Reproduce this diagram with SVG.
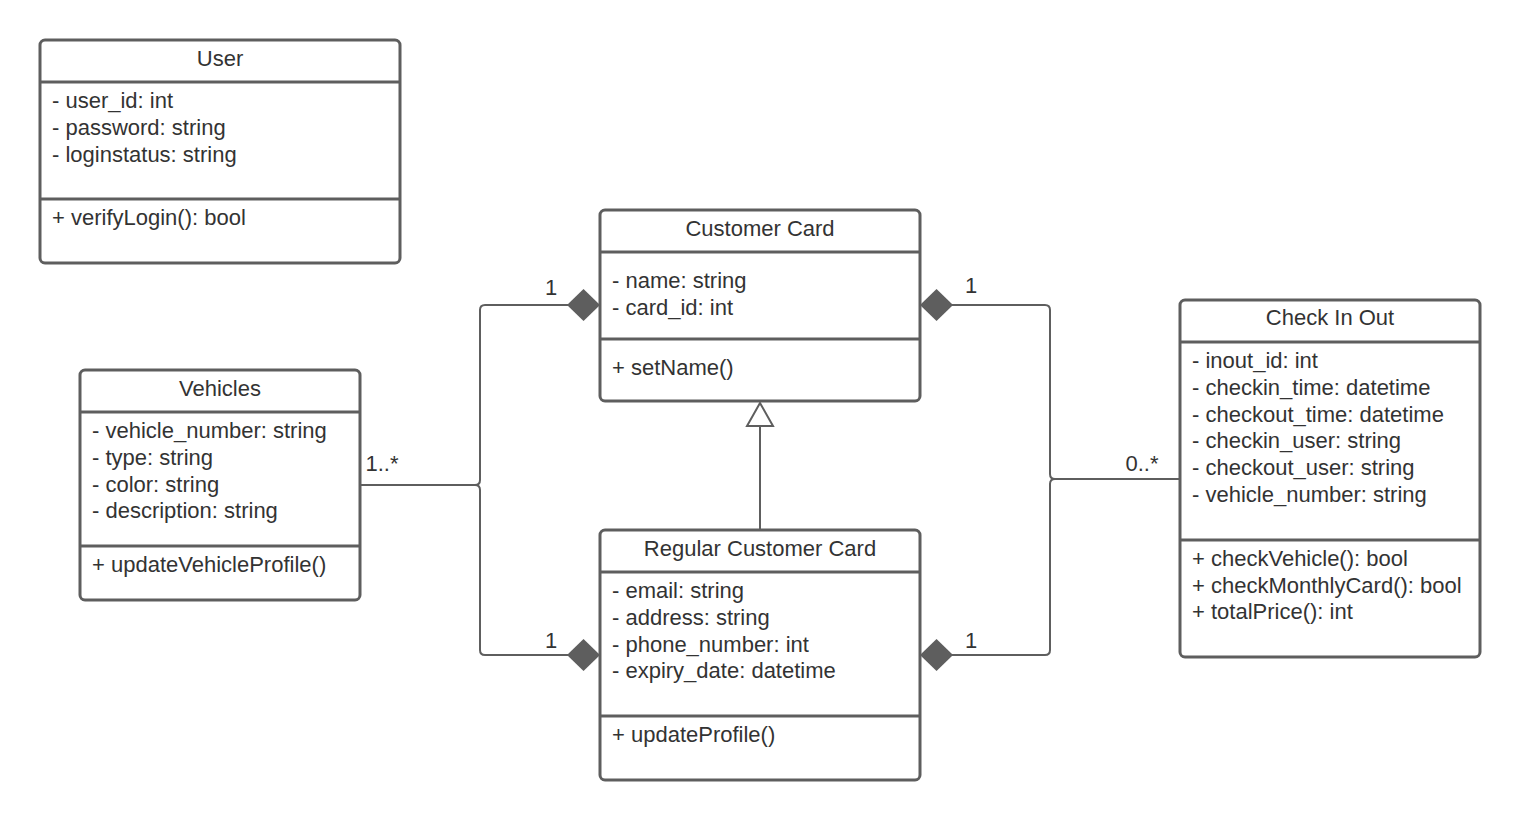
<svg xmlns="http://www.w3.org/2000/svg" width="1520" height="821" viewBox="0 0 1520 821">
<style>
.box{fill:#fff;stroke:#5e5e5e;stroke-width:3}
.div{stroke:#5e5e5e;stroke-width:3}
.t{font-family:"Liberation Sans",Arial,sans-serif;font-size:22px;fill:#333}
.c{text-anchor:middle}
.con{fill:none;stroke:#5e5e5e;stroke-width:2}
</style>
<defs>
<marker id="diamond" markerUnits="userSpaceOnUse" markerWidth="36" markerHeight="36" viewBox="-1 -18 36 36" refX="0" refY="0" orient="auto" overflow="visible">
<path d="M0,0 L16.5,-16 L33,0 L16.5,16 Z" fill="#5e5e5e"/>
</marker>
<marker id="tri" markerUnits="userSpaceOnUse" markerWidth="30" markerHeight="30" viewBox="-26 -15 30 30" refX="0" refY="0" orient="auto" overflow="visible">
<path d="M0,0 L-23,-13 L-23,13 Z" fill="#fff" stroke="#5e5e5e" stroke-width="2"/>
</marker>
</defs>
<rect width="1520" height="821" fill="#fff"/>
<g id="connectors">
<path class="con" marker-start="url(#diamond)" d="M600,305 H485 Q480,305 480,310 V480 Q480,485 475,485 H360"/>
<path class="con" marker-start="url(#diamond)" d="M600,655 H485 Q480,655 480,650 V490 Q480,485 475,485 H360"/>
<path class="con" marker-start="url(#diamond)" d="M920,305 H1045 Q1050,305 1050,310 V474 Q1050,479 1055,479 H1180"/>
<path class="con" marker-start="url(#diamond)" d="M920,655 H1045 Q1050,655 1050,650 V484 Q1050,479 1055,479 H1180"/>
<path class="con" marker-end="url(#tri)" d="M760,530 V403"/>
<text class="t c" x="551" y="295">1</text>
<text class="t c" x="551" y="648">1</text>
<text class="t c" x="382" y="471">1..*</text>
<text class="t c" x="971" y="293">1</text>
<text class="t c" x="971" y="648">1</text>
<text class="t c" x="1142" y="471">0..*</text>
</g>
<g id="user">
<rect class="box" x="40" y="40" width="360" height="223" rx="5"/>
<line class="div" x1="40" y1="82" x2="400" y2="82"/>
<line class="div" x1="40" y1="199" x2="400" y2="199"/>
<text class="t c" x="220" y="66">User</text>
<text class="t" x="52" y="108">- user_id: int</text>
<text class="t" x="52" y="135">- password: string</text>
<text class="t" x="52" y="161.5">- loginstatus: string</text>
<text class="t" x="52" y="225">+ verifyLogin(): bool</text>
</g>
<g id="customer-card">
<rect class="box" x="600" y="210" width="320" height="191" rx="5"/>
<line class="div" x1="600" y1="252" x2="920" y2="252"/>
<line class="div" x1="600" y1="339" x2="920" y2="339"/>
<text class="t c" x="760" y="236">Customer Card</text>
<text class="t" x="612" y="288">- name: string</text>
<text class="t" x="612" y="315">- card_id: int</text>
<text class="t" x="612" y="375">+ setName()</text>
</g>
<g id="vehicles">
<rect class="box" x="80" y="370" width="280" height="230" rx="5"/>
<line class="div" x1="80" y1="412" x2="360" y2="412"/>
<line class="div" x1="80" y1="546" x2="360" y2="546"/>
<text class="t c" x="220" y="396">Vehicles</text>
<text class="t" x="92" y="438">- vehicle_number: string</text>
<text class="t" x="92" y="465">- type: string</text>
<text class="t" x="92" y="491.5">- color: string</text>
<text class="t" x="92" y="518">- description: string</text>
<text class="t" x="92" y="572">+ updateVehicleProfile()</text>
</g>
<g id="regular-customer-card">
<rect class="box" x="600" y="530" width="320" height="250" rx="5"/>
<line class="div" x1="600" y1="572" x2="920" y2="572"/>
<line class="div" x1="600" y1="716" x2="920" y2="716"/>
<text class="t c" x="760" y="556">Regular Customer Card</text>
<text class="t" x="612" y="598">- email: string</text>
<text class="t" x="612" y="625">- address: string</text>
<text class="t" x="612" y="651.5">- phone_number: int</text>
<text class="t" x="612" y="678">- expiry_date: datetime</text>
<text class="t" x="612" y="742">+ updateProfile()</text>
</g>
<g id="check-in-out">
<rect class="box" x="1180" y="300" width="300" height="357" rx="5"/>
<line class="div" x1="1180" y1="342" x2="1480" y2="342"/>
<line class="div" x1="1180" y1="540" x2="1480" y2="540"/>
<text class="t c" x="1330" y="325">Check In Out</text>
<text class="t" x="1192" y="368">- inout_id: int</text>
<text class="t" x="1192" y="395">- checkin_time: datetime</text>
<text class="t" x="1192" y="421.5">- checkout_time: datetime</text>
<text class="t" x="1192" y="448">- checkin_user: string</text>
<text class="t" x="1192" y="475">- checkout_user: string</text>
<text class="t" x="1192" y="501.5">- vehicle_number: string</text>
<text class="t" x="1192" y="566">+ checkVehicle(): bool</text>
<text class="t" x="1192" y="592.5">+ checkMonthlyCard(): bool</text>
<text class="t" x="1192" y="619">+ totalPrice(): int</text>
</g>
</svg>
